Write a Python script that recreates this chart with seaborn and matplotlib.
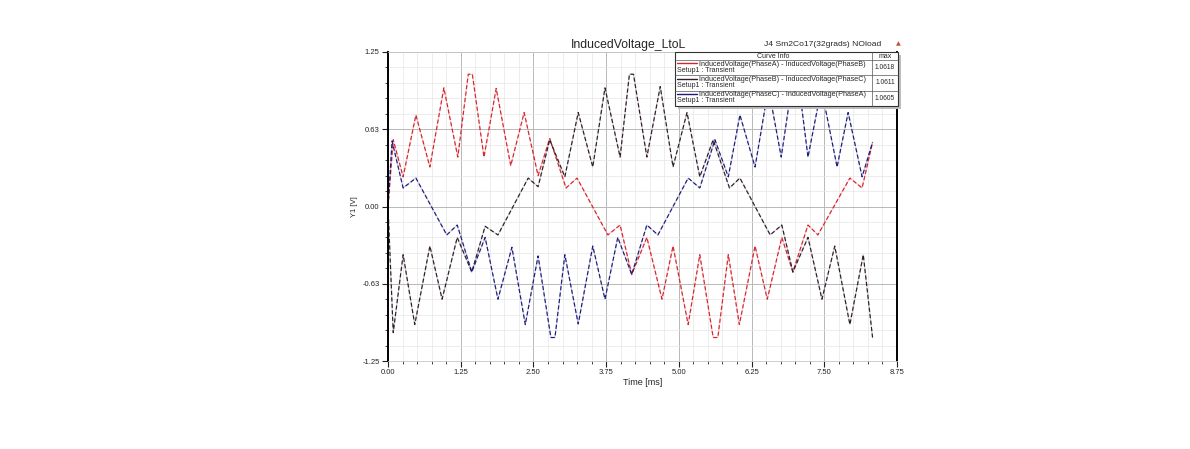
import matplotlib
matplotlib.use("Agg")
import pandas as pd
import matplotlib.pyplot as plt
import seaborn as sns
from matplotlib.ticker import MultipleLocator
from matplotlib.patches import Rectangle
from matplotlib.lines import Line2D

# ----------------------------
# data (vertices of each trace)
# ----------------------------
t_ab = [0, 0.09, 0.26, 0.48, 0.72, 0.96, 1.20, 1.38, 1.45, 1.65, 1.86, 2.11, 2.34, 2.58, 2.78,
        3.06, 3.25, 3.78, 3.99, 4.19, 4.45, 4.71, 4.90, 5.16, 5.36, 5.59, 5.67, 5.85, 6.04,
        6.31, 6.52, 6.77, 6.96, 7.22, 7.39, 7.94, 8.15, 8.33]
v_ab = [0, 0.54, 0.24, 0.74, 0.32, 0.96, 0.40, 1.07, 1.07, 0.40, 0.955, 0.33, 0.76, 0.25, 0.55,
        0.15, 0.23, -0.23, -0.15, -0.55, -0.25, -0.75, -0.32, -0.955, -0.39, -1.06, -1.06, -0.39, -0.955,
        -0.32, -0.75, -0.25, -0.53, -0.15, -0.23, 0.23, 0.15, 0.52]

t_bc = [0, 0.09, 0.26, 0.46, 0.72, 0.93, 1.19, 1.44, 1.67, 1.89, 2.41, 2.58, 2.78, 3.04, 3.27,
        3.52, 3.73, 3.99, 4.15, 4.22, 4.45, 4.68, 4.90, 5.14, 5.36, 5.59, 5.87, 6.05, 6.57,
        6.77, 6.96, 7.22, 7.46, 7.68, 7.94, 8.17, 8.33]
v_bc = [0, -1.02, -0.39, -0.955, -0.32, -0.75, -0.25, -0.53, -0.16, -0.23, 0.23, 0.16, 0.54, 0.24, 0.76,
        0.32, 0.96, 0.40, 1.07, 1.07, 0.40, 0.97, 0.32, 0.76, 0.24, 0.54, 0.15, 0.23, -0.23,
        -0.15, -0.53, -0.25, -0.75, -0.32, -0.955, -0.39, -1.06]

t_ca = [0, 0.07, 0.26, 0.48, 1.01, 1.19, 1.44, 1.67, 1.89, 2.13, 2.36, 2.58, 2.80, 2.87, 3.04,
        3.27, 3.52, 3.73, 3.95, 4.19, 4.45, 4.64, 5.16, 5.36, 5.62, 5.85, 6.05, 6.31, 6.54,
        6.76, 6.97, 7.04, 7.22, 7.45, 7.72, 7.91, 8.15, 8.33]
v_ca = [0, 0.53, 0.15, 0.23, -0.23, -0.15, -0.53, -0.25, -0.75, -0.33, -0.955, -0.40, -1.06, -1.06, -0.39,
        -0.95, -0.32, -0.75, -0.25, -0.55, -0.15, -0.23, 0.23, 0.15, 0.54, 0.24, 0.74, 0.32, 0.96,
        0.40, 1.07, 1.07, 0.40, 0.955, 0.32, 0.76, 0.24, 0.52]

curve_names = ["InducedVoltage(PhaseA) - InducedVoltage(PhaseB)",
               "InducedVoltage(PhaseB) - InducedVoltage(PhaseC)",
               "InducedVoltage(PhaseC) - InducedVoltage(PhaseA)"]
curve_max = ["1.0618", "1.0611", "1.0605"]
curve_colors = ["#d8242c", "#2e1e2c", "#1c1c7a"]

xticks = [0, 1.25, 2.5, 3.75, 5.0, 6.25, 7.5, 8.75]
xtick_labels = ["0.00", "1.25", "2.50", "3.75", "5.00", "6.25", "7.50", "8.75"]
yticks = [-1.25, -0.625, 0, 0.625, 1.25]
ytick_labels = ["-1.25", "-0.63", "0.00", "0.63", "1.25"]

series = [(t_ab, v_ab), (t_bc, v_bc), (t_ca, v_ca)]
df = pd.concat([pd.DataFrame({"t": t, "v": v, "curve": name})
                for (t, v), name in zip(series, curve_names)], ignore_index=True)

# ----------------------------
# figure
# ----------------------------
sns.set_theme(style="white")
plt.rcParams["font.family"] = ["Liberation Sans", "DejaVu Sans"]

W, H = 1190, 449
fig = plt.figure(figsize=(W / 100, H / 100), dpi=100)
ax = fig.add_axes([388 / W, 88 / H, 509 / W, 309 / H])

for name, col in zip(curve_names, curve_colors):
    sub = df[df["curve"] == name]
    sns.lineplot(data=sub, x="t", y="v", ax=ax, color=col, sort=False, estimator=None,
                 lw=0.9, alpha=0.2, legend=False)
    sns.lineplot(data=sub, x="t", y="v", ax=ax, color=col, sort=False, estimator=None,
                 lw=0.85, linestyle=(0, (3.5, 2)), legend=False)

ax.set_xlim(0, 8.75)
ax.set_ylim(-1.25, 1.25)
ax.set_xticks(xticks)
ax.set_xticklabels(xtick_labels)
ax.set_yticks(yticks)
ax.set_yticklabels(ytick_labels)
ax.xaxis.set_minor_locator(MultipleLocator(0.25))
ax.yaxis.set_minor_locator(MultipleLocator(0.125))
ax.grid(which="major", color="#b8b8b8", lw=0.7)
ax.grid(which="minor", color="#e6e6e6", lw=0.5)
ax.set_axisbelow(True)
ax.tick_params(which="major", direction="out", length=4, width=0.8, pad=2,
               labelsize=5.5, colors="#222222", bottom=True, left=True)
ax.tick_params(which="minor", direction="out", length=2, width=0.6, bottom=True, left=True)
for s in ["left", "right"]:
    ax.spines[s].set_color("black")
    ax.spines[s].set_linewidth(1.4)
for s in ["top", "bottom"]:
    ax.spines[s].set_color("#c8c8c8")
    ax.spines[s].set_linewidth(0.6)

ax.set_xlabel("Time [ms]", fontsize=6.5, labelpad=1)
ax.set_ylabel("Y1 [V]", fontsize=5.5, labelpad=3)

fx = lambda x: x / W
fy = lambda y: 1 - y / H

fig.text(fx(629), fy(45), "InducedVoltage_LtoL", ha="center", va="center", fontsize=8.8)
fig.text(fx(823), fy(45), "J4 Sm2Co17(32grads) NOload", ha="center", va="center", fontsize=6.1)
fig.text(fx(898), fy(44), "\u25b2", ha="center", va="center", fontsize=4.5, color="#b8553a",
         family=["DejaVu Sans"])

# ----------------------------
# legend table (Curve Info / max)
# ----------------------------
x0, x1, y0, y1 = 675, 898, 52, 106
fig.add_artist(Rectangle((fx(x0 + 3), fy(y1 + 3)), (x1 - x0) / W, (y1 - y0) / H,
                         transform=fig.transFigure, facecolor="#bdbdbd", edgecolor="none", zorder=5))
fig.add_artist(Rectangle((fx(x0), fy(y1)), (x1 - x0) / W, (y1 - y0) / H,
                         transform=fig.transFigure, facecolor="white", edgecolor="#333333",
                         lw=0.8, zorder=6))
for yy in [60, 75, 91]:
    fig.add_artist(Line2D([fx(x0), fx(x1)], [fy(yy), fy(yy)], transform=fig.transFigure,
                          color="#555555", lw=0.5, zorder=7))
fig.add_artist(Line2D([fx(872), fx(872)], [fy(y0), fy(y1)], transform=fig.transFigure,
                      color="#555555", lw=0.5, zorder=7))
fig.text(fx(773), fy(56), "Curve Info", ha="center", va="center", fontsize=5, zorder=8)
fig.text(fx(885), fy(56), "max", ha="center", va="center", fontsize=5, zorder=8)

row_y = [64, 79.5, 95]
for ry, name, col, mx in zip(row_y, curve_names, curve_colors, curve_max):
    fig.add_artist(Line2D([fx(677), fx(697)], [fy(ry - 1), fy(ry - 1)], transform=fig.transFigure,
                          color=col, lw=1.0, zorder=8))
    fig.text(fx(699), fy(ry), name, ha="left", va="center", fontsize=5.2, zorder=8)
    fig.text(fx(677), fy(ry + 6), "Setup1 : Transient", ha="left", va="center",
             fontsize=5.0, zorder=8)
    fig.text(fx(885), fy(ry + 3.5), mx, ha="center", va="center", fontsize=4.8, zorder=8)

plt.savefig("out.png", dpi=100)
